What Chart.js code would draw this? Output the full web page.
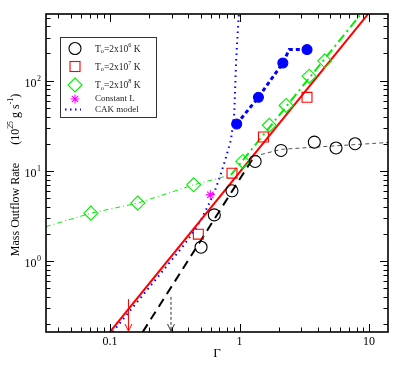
<!DOCTYPE html>
<html>
<head>
<meta charset="utf-8">
<script src="https://cdn.jsdelivr.net/npm/chart.js@4.4.0/dist/chart.umd.min.js"></script>
<style>
  html, body { margin: 0; padding: 0; background: #fff; }
</style>
</head>
<body>
<canvas id="outflow" width="409" height="372"></canvas>
<script>
// T_o = 2x10^6 K (open circles)
const t6Gamma = [0.505, 0.639, 0.875, 1.32, 2.09, 3.78, 5.56, 7.8];
const t6Rate  = [1.42, 3.24, 6.0, 12.7, 16.8, 20.8, 17.9, 19.95];
// T_o = 2x10^7 K (open squares)
const t7Gamma = [0.481, 0.875, 1.53, 3.32];
const t7Rate  = [1.98, 9.4, 23.7, 65.3];
// T_o = 2x10^8 K (open diamonds)
const t8Gamma = [0.0713, 0.164, 0.443, 1.06, 1.70, 2.29, 3.45, 4.55];
const t8Rate  = [3.39, 4.38, 6.99, 12.7, 32, 53, 112, 166];
// constant L run
const constLGamma = [0.595];
const constLRate  = [5.41];
// filled blue circles and the dashed curve through them
const blueGamma = [0.951, 1.40, 2.16, 3.32];
const blueRate  = [33, 65.3, 157, 221];
const blueLineGamma = [0.951, 1.40, 2.16, 2.42, 3.32];
const blueLineRate  = [33, 65.3, 157, 221, 221];
// CAK model
const cakGamma = [0.105, 0.364, 0.435, 0.505, 0.585, 0.65, 0.707, 0.777, 0.86, 0.912, 0.94, 0.968, 0.99];
const cakRate  = [0.164, 1.44, 2.03, 2.86, 4.38, 6.15, 8.64, 13.3, 22.1, 44, 157, 339, 560];
// fitted lines
const redFitGamma = [0.1, 10];
const redFitRate  = [0.163, 565];
const blackFitGamma = [0.179, 1.3];
const blackFitRate  = [0.163, 14.5];
const greyFitGamma = [1.3, 2.1, 14];
const greyFitRate  = [14.5, 17.3, 20.6];
const greenThinGamma = [0.032, 0.0713, 0.164, 0.443, 0.86];
const greenThinRate  = [2.4, 3.39, 4.38, 6.99, 9.0];
const greenFitGamma = [0.86, 10];
const greenFitRate  = [9.0, 709];
// arrows (x position, top of arrow)
const arrowGamma = [0.139, 0.296];
const arrowTop   = [0.378, 0.40];
// axis ticks
const xTickValues = [0.1, 1, 10];
const xTickLabels = ['0.1', '1', '10'];
const yTickValues = [1, 10, 100];
const yTickExp    = ['0', '1', '2'];

const SERIF = '"Liberation Serif", "DejaVu Serif", serif';

function pts(xs, ys) {
  return xs.map((x, i) => ({ x: x, y: ys[i] }));
}

function lineSet(xs, ys, color, width, dash) {
  return {
    data: pts(xs, ys), borderColor: color, borderWidth: width, borderDash: dash,
    pointRadius: 0, showLine: true, fill: false, tension: 0, clip: 0
  };
}

function markSet(xs, ys, style, color, radius, fillColor) {
  return {
    data: pts(xs, ys), showLine: false, pointStyle: style, pointRadius: radius,
    pointBorderColor: color, pointBackgroundColor: fillColor || 'rgba(0,0,0,0)',
    pointBorderWidth: 1.1, pointHoverRadius: radius
  };
}

// draws a string made of normal / sup / sub pieces, returns width
function richText(ctx, parts, x, y, size) {
  let cx = x;
  parts.forEach(p => {
    let fs = size, dy = 0;
    if (p.sup) { fs = size * 0.65; dy = -size * 0.4; }
    if (p.sub) { fs = size * 0.65; dy = size * 0.3; }
    ctx.font = fs + 'px ' + SERIF;
    ctx.fillText(p.t, cx, y + dy);
    cx += ctx.measureText(p.t).width;
  });
  return cx - x;
}

function richWidth(ctx, parts, size) {
  let w = 0;
  parts.forEach(p => {
    const fs = (p.sup || p.sub) ? size * 0.65 : size;
    ctx.font = fs + 'px ' + SERIF;
    w += ctx.measureText(p.t).width;
  });
  return w;
}

const frame = {
  id: 'frame',
  afterDatasetsDraw(chart) {
    const ctx = chart.ctx, xs = chart.scales.x, ys = chart.scales.y;
    const colors = ['#ff0000', '#333333'];
    arrowGamma.forEach((g, i) => {
      const px = xs.getPixelForValue(g);
      const top = ys.getPixelForValue(arrowTop[i]);
      const bot = chart.chartArea.bottom - 1;
      ctx.save();
      ctx.strokeStyle = colors[i];
      ctx.lineWidth = 1;
      ctx.setLineDash(i === 0 ? [] : [3, 2]);
      ctx.beginPath(); ctx.moveTo(px, top); ctx.lineTo(px, bot); ctx.stroke();
      ctx.setLineDash([]);
      ctx.beginPath();
      ctx.moveTo(px - 3.5, bot - 7); ctx.lineTo(px, bot); ctx.lineTo(px + 3.5, bot - 7);
      ctx.stroke();
      ctx.restore();
    });
  },
  afterDraw(chart) {
    const ctx = chart.ctx, a = chart.chartArea, xs = chart.scales.x, ys = chart.scales.y;
    ctx.save();
    // ticks on all four sides
    ctx.strokeStyle = '#000';
    ctx.lineWidth = 1;
    for (let d = -3; d <= 3; d++) {
      for (let m = 1; m <= 9; m++) {
        const v = m * Math.pow(10, d);
        const len = m === 1 ? 8 : 4.5;
        if (v >= xs.min && v <= xs.max) {
          const px = Math.round(xs.getPixelForValue(v)) + 0.5;
          ctx.beginPath();
          ctx.moveTo(px, a.bottom); ctx.lineTo(px, a.bottom - len);
          ctx.moveTo(px, a.top); ctx.lineTo(px, a.top + len);
          ctx.stroke();
        }
        if (v >= ys.min && v <= ys.max) {
          const py = Math.round(ys.getPixelForValue(v)) + 0.5;
          ctx.beginPath();
          ctx.moveTo(a.left, py); ctx.lineTo(a.left + len, py);
          ctx.moveTo(a.right, py); ctx.lineTo(a.right - len, py);
          ctx.stroke();
        }
      }
    }
    // frame
    ctx.lineWidth = 1.6;
    ctx.strokeRect(a.left, a.top, a.right - a.left, a.bottom - a.top);

    // tick labels
    ctx.fillStyle = '#000';
    ctx.font = '12px ' + SERIF;
    ctx.textAlign = 'center';
    ctx.textBaseline = 'middle';
    xTickValues.forEach((v, i) => {
      ctx.fillText(xTickLabels[i], xs.getPixelForValue(v), 342);
    });
    yTickValues.forEach((v, i) => {
      const py = ys.getPixelForValue(v);
      ctx.textAlign = 'right';
      ctx.font = '12px ' + SERIF;
      ctx.fillText('10', 36.5, py + 3);
      ctx.textAlign = 'left';
      ctx.font = '8px ' + SERIF;
      ctx.fillText(yTickExp[i], 37, py - 2);
    });

    // axis titles
    ctx.textAlign = 'center';
    ctx.font = '13px ' + SERIF;
    ctx.fillText('\u0393', 217, 354);

    const yTitle = [
      { t: 'Mass Outflow Rate' }, { t: '      (10' }, { t: '25', sup: true },
      { t: ' g s' }, { t: '-1', sup: true }, { t: ')' }
    ];
    ctx.save();
    ctx.translate(16, 175);
    ctx.rotate(-Math.PI / 2);
    ctx.textAlign = 'left';
    const tw = richWidth(ctx, yTitle, 12);
    richText(ctx, yTitle, -tw / 2, 0, 12);
    ctx.restore();

    // legend box
    ctx.fillStyle = '#fff';
    ctx.fillRect(60, 37, 96, 80);
    ctx.strokeStyle = '#333';
    ctx.lineWidth = 1;
    ctx.strokeRect(60.5, 37.5, 96, 80);
    const sx = 75, tx = 95;
    // circle
    ctx.strokeStyle = '#000'; ctx.lineWidth = 1.1;
    ctx.beginPath(); ctx.arc(sx, 48.5, 6, 0, Math.PI * 2); ctx.stroke();
    // square
    ctx.strokeStyle = '#ff0000';
    ctx.strokeRect(sx - 5, 61.5, 10, 10);
    // diamond
    ctx.strokeStyle = '#00ee00';
    ctx.beginPath();
    ctx.moveTo(sx, 78); ctx.lineTo(sx + 7, 85); ctx.lineTo(sx, 92); ctx.lineTo(sx - 7, 85);
    ctx.closePath(); ctx.stroke();
    // asterisk
    ctx.strokeStyle = '#ff00ff';
    ctx.beginPath();
    for (let k = 0; k < 4; k++) {
      const ang = k * Math.PI / 4;
      ctx.moveTo(sx - 4.5 * Math.cos(ang), 99 - 4.5 * Math.sin(ang));
      ctx.lineTo(sx + 4.5 * Math.cos(ang), 99 + 4.5 * Math.sin(ang));
    }
    ctx.stroke();
    // CAK dotted
    ctx.strokeStyle = '#0000ff'; ctx.lineWidth = 2;
    ctx.setLineDash([1.5, 3.5]);
    ctx.beginPath(); ctx.moveTo(65, 109.5); ctx.lineTo(81, 109.5); ctx.stroke();
    ctx.setLineDash([]);

    ctx.fillStyle = '#222';
    ctx.textAlign = 'left';
    ctx.textBaseline = 'middle';
    const tempLabels = ['6', '7', '8'];
    const tempY = [49, 67, 85.5];
    tempLabels.forEach((e, i) => {
      richText(ctx, [{ t: 'T' }, { t: 'o', sub: true }, { t: '=2x10' }, { t: e, sup: true }, { t: ' K' }], tx, tempY[i], 9.5);
    });
    ctx.font = '9px ' + SERIF;
    ctx.fillText('Constant L', tx, 99);
    ctx.fillText('CAK model', tx, 110);
    ctx.restore();
  }
};

new Chart(document.getElementById('outflow'), {
  type: 'scatter',
  data: {
    datasets: [
      markSet(blueGamma, blueRate, 'circle', '#0000ff', 5, '#0000ff'),
      markSet(t6Gamma, t6Rate, 'circle', '#000000', 6),
      markSet(t7Gamma, t7Rate, 'rect', '#ff0000', 7),
      markSet(t8Gamma, t8Rate, 'rectRot', '#00ee00', 7),
      markSet(constLGamma, constLRate, 'star', '#ff00ff', 4.5),
      lineSet(blueLineGamma, blueLineRate, '#0000ff', 3, [4, 3]),
      lineSet(redFitGamma, redFitRate, '#ff0000', 2, []),
      lineSet(greenFitGamma, greenFitRate, '#00ee00', 2, [9, 4, 2, 4]),
      lineSet(blackFitGamma, blackFitRate, '#000000', 2, [9, 6]),
      lineSet(greyFitGamma, greyFitRate, '#555555', 1, [4, 3]),
      lineSet(greenThinGamma, greenThinRate, '#00ee00', 1, [5, 3, 1, 3]),
      lineSet(cakGamma, cakRate, '#0000ff', 2, [1.5, 4])
    ]
  },
  options: {
    responsive: false,
    animation: false,
    events: [],
    layout: { padding: { left: 46, top: 14, right: 21, bottom: 40 } },
    plugins: { legend: { display: false }, tooltip: { enabled: false } },
    scales: {
      x: { type: 'logarithmic', min: 0.0321, max: 14, display: false },
      y: { type: 'logarithmic', min: 0.163, max: 548, display: false }
    }
  },
  plugins: [frame]
});
</script>
</body>
</html>
